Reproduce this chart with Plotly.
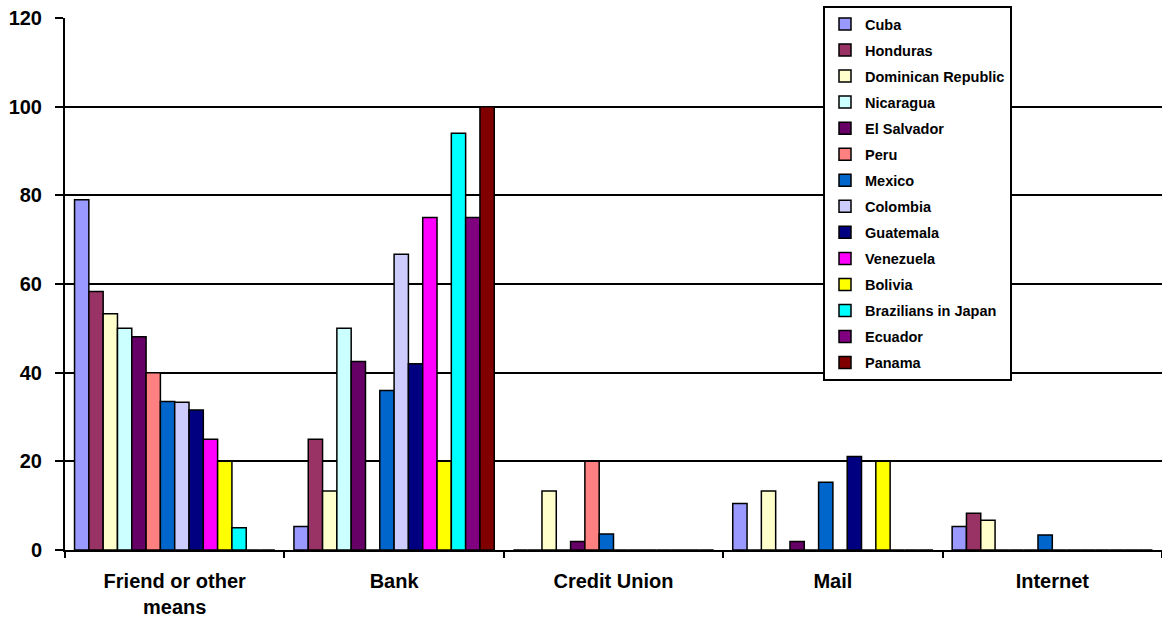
import plotly.graph_objects as go

categories = ["Friend or other<br>means", "Bank", "Credit Union", "Mail", "Internet"]

series_names = ["Cuba", "Honduras", "Dominican Republic", "Nicaragua", "El Salvador",
                "Peru", "Mexico", "Colombia", "Guatemala", "Venezuela", "Bolivia",
                "Brazilians in Japan", "Ecuador", "Panama"]

cuba = [79, 5.3, 0, 10.5, 5.3]
honduras = [58.3, 25, 0, 0, 8.3]
dominican_republic = [53.3, 13.3, 13.3, 13.3, 6.7]
nicaragua = [50, 50, 0, 0, 0]
el_salvador = [48.1, 42.5, 1.9, 1.9, 0]
peru = [40, 0, 20, 0, 0]
mexico = [33.5, 36, 3.6, 15.3, 3.4]
colombia = [33.3, 66.7, 0, 0, 0]
guatemala = [31.6, 42, 0, 21.1, 0]
venezuela = [25, 75, 0, 0, 0]
bolivia = [20, 20, 0, 20, 0]
brazilians_in_japan = [5, 94, 0, 0, 0]
ecuador = [0, 75, 0, 0, 0]
panama = [0, 100, 0, 0, 0]

values = [cuba, honduras, dominican_republic, nicaragua, el_salvador, peru, mexico,
          colombia, guatemala, venezuela, bolivia, brazilians_in_japan, ecuador, panama]

colors = ["#9999FF", "#993366", "#FFFFCC", "#CCFFFF", "#660066", "#FF8080", "#0066CC",
          "#CCCCFF", "#000080", "#FF00FF", "#FFFF00", "#00FFFF", "#800080", "#800000"]

fig = go.Figure()
for name, vals, col in zip(series_names, values, colors):
    fig.add_trace(go.Bar(
        x=categories, y=vals, name=name,
        marker=dict(color=col, line=dict(color="black", width=1.5)),
        legendgroup=name,
    ))

fig.update_layout(
    width=1162, height=622,
    barmode="group", bargap=0.087, bargroupgap=0,
    plot_bgcolor="white", paper_bgcolor="white",
    margin=dict(l=65, r=0, t=18, b=72, autoexpand=False),
    font=dict(family="Liberation Sans, Arial", color="black"),
    showlegend=True,
    legend=dict(
        x=(823 - 65) / 1097, y=(550 - 6) / 532, xanchor="left", yanchor="top",
        bgcolor="white", bordercolor="black", borderwidth=2,
        font=dict(size=14.5, family="Liberation Sans, Arial", color="black", weight="bold"),
        tracegroupgap=4.2, maxheight=600,
    ),
    xaxis=dict(
        showline=True, linecolor="black", linewidth=2,
        ticks="outside", tickson="boundaries", ticklen=6, tickwidth=2, tickcolor="black",
        tickfont=dict(size=20, weight="bold"), ticklabelstandoff=12,
        showgrid=False,
    ),
    yaxis=dict(
        range=[0, 120], dtick=20,
        showline=True, linecolor="black", linewidth=2,
        ticks="outside", ticklen=8, tickwidth=2, tickcolor="black",
        tickfont=dict(size=20, weight="bold"), ticklabelstandoff=9,
        showgrid=True, gridcolor="black", gridwidth=2,
        zeroline=False,
    ),
)

fig.write_html("out.html", config={"displayModeBar": False},
               post_script="document.body.style.margin='0';")
